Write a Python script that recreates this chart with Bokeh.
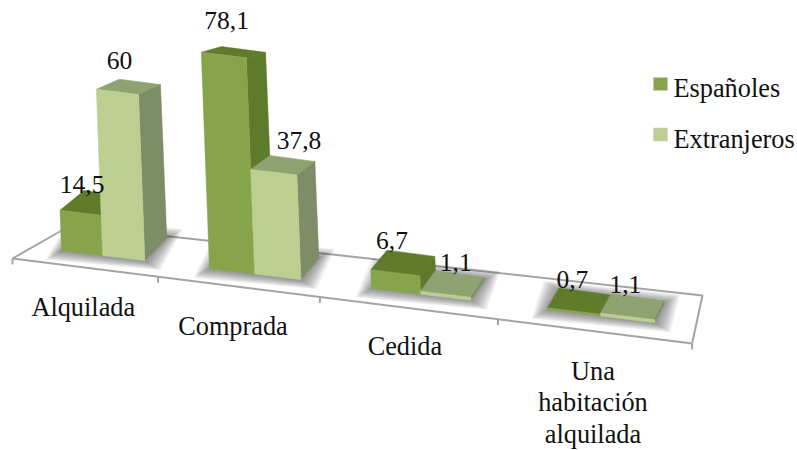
from bokeh.plotting import figure
from bokeh.embed import file_html
from bokeh.resources import INLINE
from bokeh.models import Range1d, ColumnDataSource
from bokeh.core.properties import value

categories = ["Alquilada", "Comprada", "Cedida", "Una\nhabitación\nalquilada"]
series = ["Españoles", "Extranjeros"]
espanoles = [14.5, 78.1, 6.7, 0.7]
extranjeros = [60, 37.8, 1.1, 1.1]
labels_es = ["14,5", "78,1", "6,7", "0,7"]
labels_ex = ["60", "37,8", "1,1", "1,1"]

FONT = "Liberation Serif"
FS = "25.5px"
FS_CAT = "26.3px"
C_ES = dict(front="#86A44A", top="#5F7B2C", side="#5E7A2B")
C_EX = dict(front="#BCCF90", top="#8EA272", side="#7C8D67")
AX = "#A4A4A4"
INK = "#111111"

p = figure(width=797, height=450, x_range=Range1d(0, 797), y_range=Range1d(450, 0),
           output_backend="svg", toolbar_location=None, min_border=0,
           outline_line_color=None, background_fill_color="white")
p.axis.visible = False
p.grid.visible = False

W = 0.575  # pair width, in category units


def axis_x(t):
    return 12 + 137.5 * t + 8.1 * t * t


def axis_y(x):
    return 258 + 0.125 * (x - 12)


def project(t, d, z):
    xf = 61 + 141 * t + 7 * t * t
    yf = 255 + 0.1216 * (xf - 102)
    f = (xf - 62) / 591
    dx = 24 - 15 * f
    dy = -23 + 4 * f
    s = 2.77 - 0.21 * d
    return xf + d * dx - 0.105 * z, yf + d * dy - s * z


def poly(pts, color, alpha=1.0):
    p.patch([a for a, _ in pts], [b for _, b in pts], fill_color=color, fill_alpha=alpha,
            line_color=color, line_alpha=alpha, line_width=0.5)


# floor outline
n = len(categories)
fx = [axis_x(i) for i in range(n + 1)]
back = [(70, 225), (702, 295)]
p.line([fx[0], back[0][0], back[1][0], fx[-1]],
       [axis_y(fx[0]), back[0][1], back[1][1], axis_y(fx[-1])], line_color=AX, line_width=2)
p.line([fx[0], fx[-1]], [axis_y(fx[0]), axis_y(fx[-1])], line_color=AX, line_width=2)
p.segment(fx, [axis_y(a) for a in fx], fx, [axis_y(a) + 6 for a in fx], line_color=AX, line_width=2)

# soft shadows
for i in range(n):
    corners = [project(i, 0, 0), project(i + W, 0, 0), project(i + W, 1, 0), project(i, 1, 0)]
    cx = sum(a for a, _ in corners) / 4
    cy = sum(b for _, b in corners) / 4
    for k in range(9, 0, -1):
        ex, ey = 1.7 * k, 1.0 * k
        pts = []
        for a, b in corners:
            pts.append((a + (ex if a > cx else -ex), b + (ey if b > cy else -ey)))
        poly(pts, "#3c3c3c", 0.07)


def bar(t0, t1, z, c):
    # top, side, front
    poly([project(t0, 0, z), project(t1, 0, z), project(t1, 1, z), project(t0, 1, z)], c["top"])
    poly([project(t1, 0, 0), project(t1, 1, 0), project(t1, 1, z), project(t1, 0, z)], c["side"])
    poly([project(t0, 0, 0), project(t1, 0, 0), project(t1, 0, z), project(t0, 0, z)], c["front"])


for i in range(n):
    bar(i, i + W / 2, espanoles[i], C_ES)
    bar(i + W / 2, i + W, extranjeros[i], C_EX)

# data labels
nudge_x_es = [-10, -7, -11, -7]
nudge_x_ex = [-9, 16, 3, -7]
nudge_y_es = [-18, -32, -22, -22]
nudge_y_ex = [-26, -25, -22, -22]
xs, ys, ts, ox, oy = [], [], [], [], []
for i in range(n):
    a, b = project(i + W / 4, 0.5, espanoles[i])
    xs.append(a); ys.append(b); ts.append(labels_es[i]); ox.append(nudge_x_es[i]); oy.append(nudge_y_es[i])
    a, b = project(i + 3 * W / 4, 0.5, extranjeros[i])
    xs.append(a); ys.append(b); ts.append(labels_ex[i]); ox.append(nudge_x_ex[i]); oy.append(nudge_y_ex[i])
src = ColumnDataSource(dict(x=xs, y=ys, t=ts, ox=ox, oy=oy))
p.text("x", "y", text="t", x_offset="ox", y_offset="oy", source=src, text_font=value(FONT),
       text_font_size=value(FS), text_color=INK, text_align="center", text_baseline="alphabetic")

# category labels
cat_nudge_x = [0, -4, -2, 0]
cat_nudge_y = [0, -1, -2, 0]
cx_ = [axis_x(i + 0.5) for i in range(n)]
cy_ = [axis_y(a) + 26 for a in cx_]
csrc = ColumnDataSource(dict(x=cx_, y=cy_, t=categories, ox=cat_nudge_x, oy=cat_nudge_y))
p.text("x", "y", text="t", x_offset="ox", y_offset="oy", source=csrc, text_font=value(FONT),
       text_font_size=value(FS_CAT), text_color=INK, text_align="center", text_baseline="top",
       text_line_height=1.08)

# legend
leg_y = [83.5, 134]
p.quad(left=[653, 653], right=[667, 667], top=[y - 6.5 for y in leg_y], bottom=[y + 6.5 for y in leg_y],
       fill_color=[C_ES["front"], C_EX["front"]], line_color="#C8C8C8", line_width=0.5)
p.text([673, 673], [88, 139], text=series, text_font=value(FONT), text_font_size=value(FS_CAT),
       text_color=INK, text_align="left", text_baseline="middle")

open("out.html", "w").write(file_html(p, INLINE))
